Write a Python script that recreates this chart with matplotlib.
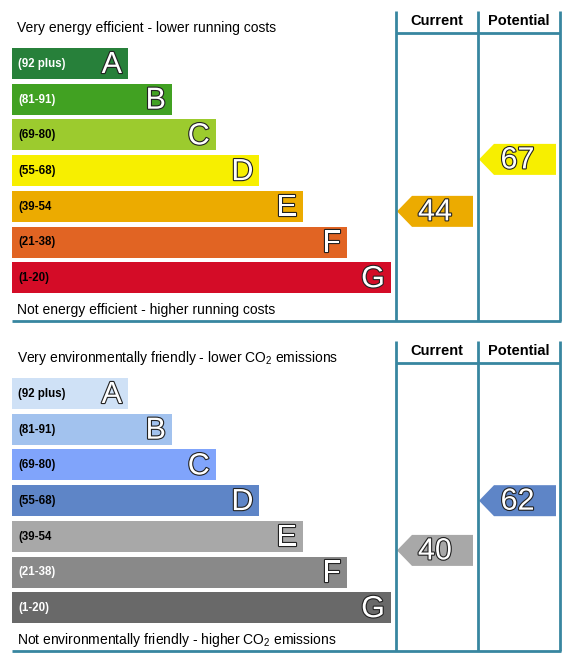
import matplotlib.pyplot as plt
from matplotlib.patches import Polygon
import matplotlib.patheffects as pe

plt.rcParams['font.family'] = ['Liberation Sans', 'DejaVu Sans']
plt.rcParams['mathtext.fontset'] = 'custom'
plt.rcParams['mathtext.rm'] = 'Liberation Sans'

# data
bands = ['A', 'B', 'C', 'D', 'E', 'F', 'G']
ranges = ['(92 plus)', '(81-91)', '(69-80)', '(55-68)', '(39-54', '(21-38)', '(1-20)']

energy_colors = ['#27803a', '#41a122', '#9ccb2e', '#f7ef00', '#ecab00', '#e16423', '#d40c27']
energy_label_colors = ['white', 'white', 'black', 'black', 'black', 'black', 'black']
co2_colors = ['#cfe1f6', '#a2c2ee', '#80a4fb', '#5e85c7', '#a8a8a8', '#898989', '#696969']
co2_label_colors = ['black', 'black', 'black', 'black', 'black', 'white', 'white']

energy_current = 44
energy_potential = 67
co2_current = 40
co2_potential = 62

line_col = '#3886a0'
outline = [pe.withStroke(linewidth=1.6, foreground='#222222')]


def value_y(v):
    # rating -> vertical centre of the pointer (pixels from panel top)
    return 310.8 - 2.26 * v


def bands_index(v):
    lows = [92, 81, 69, 55, 39, 21, 1]
    for i, lo in enumerate(lows):
        if v >= lo:
            return i
    return 6


def arrow(ax, x0, x1, yc, val, color):
    h = 31
    pts = [(x0, yc), (x0 + 15, yc - h / 2), (x1, yc - h / 2), (x1, yc + h / 2), (x0 + 15, yc + h / 2)]
    ax.add_patch(Polygon(pts, closed=True, facecolor=color, edgecolor='none'))
    ax.text((x0 + x1) / 2, yc + 1, str(val), fontsize=22, color='white', ha='center', va='center',
            path_effects=outline)


def panel(ax, top, colors, lab_colors, title, foot, cur, pot):
    ax.text(17, top + 28, title, fontsize=10, ha='left', va='center', color='black')
    ax.text(17, top + 310, foot, fontsize=10, ha='left', va='center', color='black')
    for i in range(len(bands)):
        y = top + 48 + i * 35.7
        w = 116 + 43.8 * i
        ax.barh(y + 15.5, w, height=31, left=12, color=colors[i], edgecolor='none')
        ax.text(18, y + 16, ranges[i], fontsize=8.3, fontweight='bold', color=lab_colors[i],
                ha='left', va='center')
        ax.text(12 + w - 6, y + 17, bands[i], fontsize=22, color='white', ha='right', va='center',
                path_effects=outline)
    # frame
    for x in [396, 478, 560]:
        ax.plot([x, x], [top + 11, top + 321], color=line_col, lw=2, solid_capstyle='butt')
    ax.plot([396, 560], [top + 33, top + 33], color=line_col, lw=2, solid_capstyle='butt')
    ax.plot([12, 561], [top + 321, top + 321], color=line_col, lw=2, solid_capstyle='butt')
    ax.text(437, top + 21, 'Current', fontsize=10.5, fontweight='bold', ha='center', va='center')
    ax.text(519, top + 21, 'Potential', fontsize=10.5, fontweight='bold', ha='center', va='center')
    arrow(ax, 397, 473, top + value_y(cur), cur, colors[bands_index(cur)])
    arrow(ax, 479, 556, top + value_y(pot), pot, colors[bands_index(pot)])


fig = plt.figure(figsize=(5.74, 6.6), dpi=100)
ax = fig.add_axes([0, 0, 1, 1])
ax.set_xlim(0, 574)
ax.set_ylim(660, 0)
ax.axis('off')

panel(ax, 0, energy_colors, energy_label_colors,
      'Very energy efficient - lower running costs',
      'Not energy efficient - higher running costs',
      energy_current, energy_potential)
panel(ax, 330, co2_colors, co2_label_colors,
      r'Very environmentally friendly - lower CO$_\mathregular{2}$ emissions',
      r'Not environmentally friendly - higher CO$_\mathregular{2}$ emissions',
      co2_current, co2_potential)

plt.savefig('out.png', dpi=100)
